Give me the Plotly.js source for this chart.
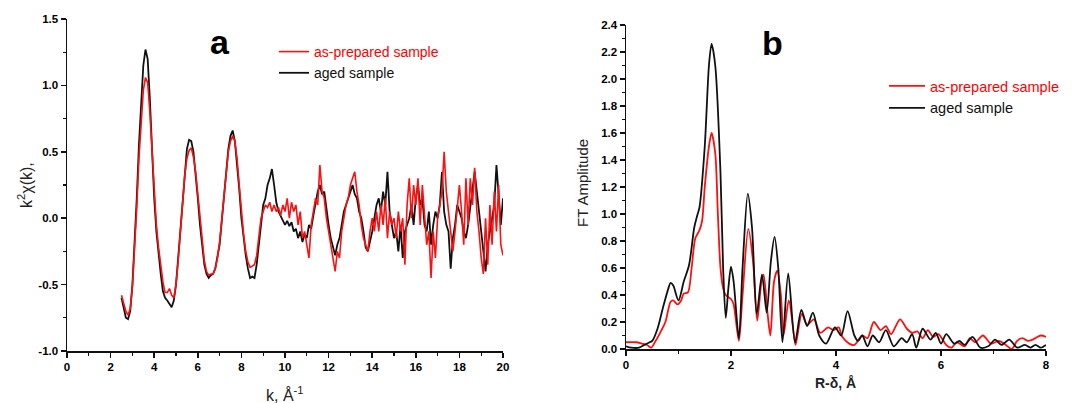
<!DOCTYPE html>
<html>
<head>
<meta charset="utf-8">
<script src="https://cdn.plot.ly/plotly-3.0.1.min.js"></script>
<style>html,body{margin:0;padding:0;background:#fff;}#chart{width:1083px;height:403px;}</style>
</head>
<body>
<div id="chart"></div>
<script>
// ---------- Panel a: k^2 chi(k) ----------
const kValues = [
2.5,2.6,2.7,2.8,2.9,3.0,3.1,3.2,3.3,3.4,3.5,3.6,3.7,3.8,3.9,4.0,4.1,4.2,4.3,4.4,4.5,4.6,4.7,4.8,4.9,
5.0,5.1,5.2,5.3,5.4,5.5,5.6,5.7,5.8,5.9,6.0,6.1,6.2,6.3,6.4,6.5,6.6,6.7,6.8,6.9,
7.0,7.1,7.2,7.3,7.4,7.5,7.6,7.7,7.8,7.9,8.0,8.1,8.2,8.3,8.4,8.5,8.6,8.7,8.8,8.9,
9.0,9.1,9.2,9.3,9.4,9.5,9.6,9.7,9.8,9.9,10.0,10.1,10.2,10.3,10.4,10.5,10.6,10.7,10.8,10.9,
11.0,11.1,11.2,11.3,11.4,11.5,11.6,11.7,11.8,11.9,12.0,12.1,12.2,12.3,12.4,12.5,12.6,12.7,12.8,12.9,
13.0,13.1,13.2,13.3,13.4,13.5,13.6,13.7,13.8,13.9,14.0,14.1,14.2,14.3,14.4,14.5,14.6,14.7,14.8,14.9,
15.0,15.1,15.2,15.3,15.4,15.5,15.6,15.7,15.8,15.9,16.0,16.1,16.2,16.3,16.4,16.5,16.6,16.7,16.8,16.9,
17.0,17.1,17.2,17.3,17.4,17.5,17.6,17.7,17.8,17.9,18.0,18.1,18.2,18.3,18.4,18.5,18.6,18.7,18.8,18.9,
19.0,19.1,19.2,19.3,19.4,19.5,19.6,19.7,19.8,19.9,20.0
];
const chiAged = [
-0.60,-0.68,-0.75,-0.76,-0.70,-0.50,-0.20,0.15,0.55,0.90,1.15,1.27,1.20,0.90,0.50,0.15,-0.10,-0.28,-0.42,-0.55,-0.60,-0.62,-0.65,-0.67,-0.62,
-0.50,-0.30,-0.08,0.15,0.37,0.52,0.59,0.58,0.50,0.35,0.15,-0.05,-0.22,-0.35,-0.42,-0.45,-0.43,-0.42,-0.38,-0.30,
-0.20,-0.02,0.18,0.38,0.52,0.62,0.66,0.58,0.42,0.22,0.00,-0.15,-0.28,-0.38,-0.45,-0.44,-0.45,-0.35,-0.20,-0.02,
0.10,0.15,0.25,0.30,0.37,0.25,0.12,0.05,0.02,-0.02,-0.05,-0.02,-0.06,-0.03,-0.10,-0.08,-0.15,-0.10,-0.18,-0.12,
-0.15,-0.05,-0.08,0.02,0.10,0.20,0.25,0.18,0.20,0.05,-0.05,-0.15,-0.22,-0.28,-0.20,-0.15,-0.05,0.05,0.10,0.15,
0.20,0.25,0.18,0.15,0.05,0.00,-0.10,-0.22,-0.25,-0.18,-0.10,0.00,0.10,0.15,0.05,0.20,0.10,0.35,0.05,-0.05,
-0.15,-0.10,-0.25,-0.05,-0.30,-0.10,-0.05,0.00,0.10,-0.05,0.15,0.25,0.10,0.15,-0.05,-0.10,0.05,-0.20,-0.05,0.05,
0.00,0.10,0.35,0.05,-0.05,-0.10,-0.38,-0.15,-0.05,0.10,0.05,0.00,-0.10,-0.15,-0.05,0.10,0.20,0.35,0.20,0.05,
-0.10,-0.25,-0.40,-0.20,-0.10,0.00,0.10,0.40,0.20,-0.05,0.15
];
const chiPrepared = [
-0.58,-0.64,-0.70,-0.73,-0.68,-0.52,-0.25,0.08,0.45,0.75,0.96,1.06,1.02,0.80,0.48,0.18,-0.05,-0.22,-0.36,-0.48,-0.56,-0.56,-0.53,-0.58,-0.60,
-0.50,-0.32,-0.10,0.12,0.32,0.45,0.51,0.53,0.46,0.35,0.18,0.02,-0.20,-0.32,-0.40,-0.43,-0.42,-0.42,-0.38,-0.30,
-0.18,-0.02,0.18,0.35,0.50,0.58,0.62,0.58,0.45,0.25,0.05,-0.12,-0.25,-0.33,-0.37,-0.36,-0.35,-0.28,-0.15,0.00,
0.05,0.10,0.08,0.12,0.05,0.10,0.05,0.08,0.02,0.10,0.05,0.15,0.00,0.12,0.05,0.10,-0.05,0.05,-0.15,-0.10,
-0.20,-0.30,-0.05,0.05,0.15,0.10,0.40,0.20,0.15,0.00,-0.10,-0.20,-0.30,-0.40,-0.25,-0.30,-0.10,0.00,0.10,0.15,
0.25,0.30,0.35,0.20,0.10,-0.05,-0.15,-0.20,-0.25,-0.10,0.00,-0.10,0.05,-0.10,0.10,-0.05,0.15,-0.15,0.05,-0.05,
0.00,-0.15,0.05,-0.10,0.00,-0.35,0.10,0.30,0.00,0.25,0.10,0.30,-0.05,0.25,0.00,-0.20,-0.10,-0.45,-0.10,-0.30,
0.00,0.10,0.20,0.50,0.20,0.05,-0.10,-0.25,-0.10,0.10,0.25,0.05,-0.20,0.30,-0.05,0.30,0.10,0.38,0.05,-0.10,
-0.30,-0.42,0.00,-0.35,0.10,-0.20,0.20,-0.10,0.25,-0.20,-0.28
];
const aYTickVals = [-1.0,-0.5,0.0,0.5,1.0,1.5];
const aYTickText = ["-1.0","-0.5","0.0","0.5","1.0","1.5"];
const aXTickVals = [0,2,4,6,8,10,12,14,16,18,20];
const aXTickText = ["0","2","4","6","8","10","12","14","16","18","20"];

// ---------- Panel b: FT amplitude ----------
const rAged = [0,0.1,0.25,0.35,0.45,0.5,0.6,0.7,0.8,0.85,0.9,1.0,1.1,1.2,1.3,1.35,1.4,1.5,1.58,1.63,1.7,1.8,1.85,1.9,1.95,2.0,2.05,2.15,2.22,2.32,2.4,2.49,2.59,2.68,2.76,2.83,2.9,2.98,3.09,3.22,3.34,3.45,3.56,3.68,3.81,3.98,4.1,4.22,4.35,4.42,4.5,4.6,4.7,4.82,4.95,5.1,5.25,5.35,5.45,5.53,5.65,5.8,5.9,6.0,6.1,6.25,6.35,6.45,6.6,6.75,6.9,7.03,7.15,7.3,7.45,7.6,7.7,7.8,7.9,8.0];
const ftAged = [0.02,0.01,0.01,0.03,0.05,0.06,0.15,0.30,0.44,0.49,0.47,0.36,0.50,0.62,0.90,0.98,1.05,1.50,2.10,2.26,2.10,1.30,0.60,0.23,0.45,0.61,0.50,0.08,0.60,1.15,0.90,0.26,0.55,0.27,0.65,0.83,0.60,0.05,0.56,0.05,0.29,0.17,0.27,0.10,0.04,0.16,0.10,0.28,0.10,0.06,0.10,0.02,0.10,0.05,0.14,0.02,0.08,0.05,0.11,0.01,0.15,0.07,0.12,0.04,0.11,0.04,0.06,0.03,0.09,0.01,0.02,0.07,0.03,0.07,0.01,0.03,0.01,0.03,0.01,0.03];
const rPrepared = [0,0.2,0.3,0.4,0.48,0.55,0.65,0.75,0.85,0.9,0.98,1.05,1.1,1.18,1.25,1.32,1.4,1.45,1.5,1.58,1.63,1.7,1.75,1.8,1.85,1.9,2.0,2.05,2.15,2.22,2.33,2.42,2.5,2.58,2.62,2.7,2.75,2.82,2.88,2.95,3.0,3.1,3.2,3.23,3.35,3.45,3.58,3.7,3.85,3.95,4.05,4.12,4.25,4.35,4.5,4.6,4.72,4.85,4.95,5.05,5.22,5.35,5.45,5.55,5.65,5.75,5.85,5.95,6.1,6.2,6.3,6.45,6.55,6.65,6.8,6.95,7.1,7.2,7.35,7.45,7.55,7.65,7.75,7.9,8.0];
const ftPrepared = [0.05,0.05,0.04,0.03,0.01,0.05,0.12,0.20,0.35,0.36,0.33,0.36,0.41,0.42,0.60,0.82,0.88,0.95,1.20,1.50,1.60,1.45,1.00,0.60,0.45,0.40,0.37,0.33,0.06,0.40,0.89,0.65,0.21,0.50,0.55,0.25,0.10,0.50,0.58,0.40,0.10,0.36,0.10,0.03,0.26,0.18,0.22,0.12,0.16,0.14,0.16,0.09,0.04,0.03,0.10,0.08,0.20,0.14,0.17,0.11,0.22,0.15,0.12,0.13,0.08,0.14,0.09,0.11,0.03,0.01,0.05,0.02,0.08,0.05,0.10,0.04,0.06,0.04,0.00,0.06,0.08,0.06,0.07,0.10,0.09];
const bYTickVals = [0,0.2,0.4,0.6,0.8,1.0,1.2,1.4,1.6,1.8,2.0,2.2,2.4];
const bYTickText = ["0.0","0.2","0.4","0.6","0.8","1.0","1.2","1.4","1.6","1.8","2.0","2.2","2.4"];
const bXTickVals = [0,2,4,6,8];
const bXTickText = ["0","2","4","6","8"];

const nameRed = '<span style="color:#ff0000">as-prepared sample</span>';
const nameBlack = 'aged sample';

const RED = '#ff1010', BLACK = '#111111';
const bold = arr => arr.map(s => '<b>' + s + '</b>');

const traces = [
  {x: kValues, y: chiAged, type:'scatter', mode:'lines', name:nameBlack, line:{color:BLACK, width:1.8}, xaxis:'x', yaxis:'y', legend:'legend', legendrank:2},
  {x: kValues, y: chiPrepared, type:'scatter', mode:'lines', name:nameRed, line:{color:RED, width:1.6}, xaxis:'x', yaxis:'y', legend:'legend', legendrank:1},
  {x: rPrepared, y: ftPrepared, type:'scatter', mode:'lines', name:nameRed, line:{color:RED, width:1.8, shape:'spline', smoothing:0.8}, xaxis:'x2', yaxis:'y2', legend:'legend2', legendrank:1},
  {x: rAged, y: ftAged, type:'scatter', mode:'lines', name:nameBlack, line:{color:BLACK, width:1.8, shape:'spline', smoothing:0.8}, xaxis:'x2', yaxis:'y2', legend:'legend2', legendrank:2}
];

const tickFont = {family:'Arial, Liberation Sans, sans-serif', size:11.5, color:'#000'};
const axisCommon = {showgrid:false, zeroline:false, showline:true, linecolor:'#111', linewidth:1.5,
  ticks:'outside', ticklen:5, tickwidth:1.5, tickcolor:'#111', tickfont:tickFont, fixedrange:true};

const W = 1083, H = 403;
const layout = {
  width:W, height:H, margin:{l:0,r:0,t:0,b:0}, paper_bgcolor:'#fff', plot_bgcolor:'#fff',
  font:{family:'Arial, Liberation Sans, sans-serif', color:'#111'},
  xaxis: Object.assign({}, axisCommon, {domain:[67/W, 503/W], range:[0,20], tickmode:'array', tickvals:aXTickVals, ticktext:bold(aXTickText), anchor:'y',
    minor:{dtick:1, ticklen:3, tickwidth:1.2, tickcolor:'#111', ticks:'outside'}}),
  yaxis: Object.assign({}, axisCommon, {domain:[1-351/H, 1-19/H], range:[-1,1.5], tickmode:'array', tickvals:aYTickVals, ticktext:bold(aYTickText), anchor:'x',
    minor:{dtick:0.25, tick0:0, ticklen:3, tickwidth:1.2, tickcolor:'#111', ticks:'outside'}}),
  xaxis2: Object.assign({}, axisCommon, {domain:[626/W, 1046/W], range:[0,8], tickmode:'array', tickvals:bXTickVals, ticktext:bold(bXTickText), anchor:'y2',
    minor:{dtick:1, ticklen:3, tickwidth:1.2, tickcolor:'#111', ticks:'outside'}}),
  yaxis2: Object.assign({}, axisCommon, {domain:[1-349/H, 1-25/H], range:[0,2.4], tickmode:'array', tickvals:bYTickVals, ticktext:bold(bYTickText), anchor:'x2',
    minor:{dtick:0.1, tick0:0, ticklen:3, tickwidth:1.2, tickcolor:'#111', ticks:'outside'}}),
  legend: {x:274/W, y:1-36/H, xanchor:'left', yanchor:'top', bgcolor:'rgba(0,0,0,0)', font:{size:14, color:'#111'}, itemwidth:30, tracegroupgap:0},
  legend2: {x:884/W, y:1-70/H, xanchor:'left', yanchor:'top', bgcolor:'rgba(0,0,0,0)', font:{size:14.5, color:'#111'}, itemwidth:36, tracegroupgap:0},
  showlegend:true,
  annotations:[
    {text:'<b>a</b>', xref:'paper', yref:'paper', x:220/W, y:1-42/H, xanchor:'center', yanchor:'middle', showarrow:false, font:{size:34, color:'#000'}},
    {text:'<b>b</b>', xref:'paper', yref:'paper', x:772/W, y:1-43/H, xanchor:'center', yanchor:'middle', showarrow:false, font:{size:34, color:'#000'}},
    {text:'k, Å<sup>-1</sup>', xref:'paper', yref:'paper', x:285/W, y:1-394/H, xanchor:'center', yanchor:'middle', showarrow:false, font:{size:16, color:'#222'}},
    {text:'k<sup>2</sup>χ(k),', xref:'paper', yref:'paper', x:25/W, y:1-185/H, xanchor:'center', yanchor:'middle', showarrow:false, textangle:-90, font:{size:16, color:'#222'}},
    {text:'<b>R-δ, Å</b>', xref:'paper', yref:'paper', x:835/W, y:1-383/H, xanchor:'center', yanchor:'middle', showarrow:false, font:{size:14, color:'#222'}},
    {text:'FT Amplitude', xref:'paper', yref:'paper', x:583/W, y:1-183/H, xanchor:'center', yanchor:'middle', showarrow:false, textangle:-90, font:{size:15, color:'#222'}}
  ]
};

Plotly.newPlot('chart', traces, layout, {displayModeBar:false, staticPlot:true});
</script>
</body>
</html>
